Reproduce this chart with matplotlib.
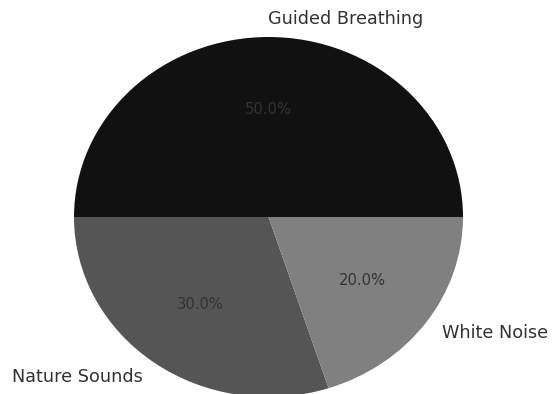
import matplotlib
matplotlib.use("Agg")
import matplotlib.pyplot as plt

plt.rcParams["font.family"] = "DejaVu Sans"

# relaxation audio preferences
labels = ["Guided Breathing", "Nature Sounds", "White Noise"]
shares = [50, 30, 20]
colors = ["#111111", "#555555", "#808080"]

fig = plt.figure(figsize=(5.54, 3.94), dpi=100)
ax = fig.add_axes([74 / 554, -3 / 394, 389 / 554, 360 / 394])

wedges, texts, autotexts = ax.pie(shares, labels=labels, colors=colors,
                                  autopct="%1.1f%%",
                                  textprops={"color": "#333333", "fontsize": 12.7})
for t in autotexts:
    t.set_fontsize(10.6)
# top label sits just right of the vertical axis
texts[0].set_horizontalalignment("left")
ax.set_aspect("auto")
ax.set_xlim(-1, 1)
ax.set_ylim(-1, 1)

fig.savefig("out.png", dpi=100)
